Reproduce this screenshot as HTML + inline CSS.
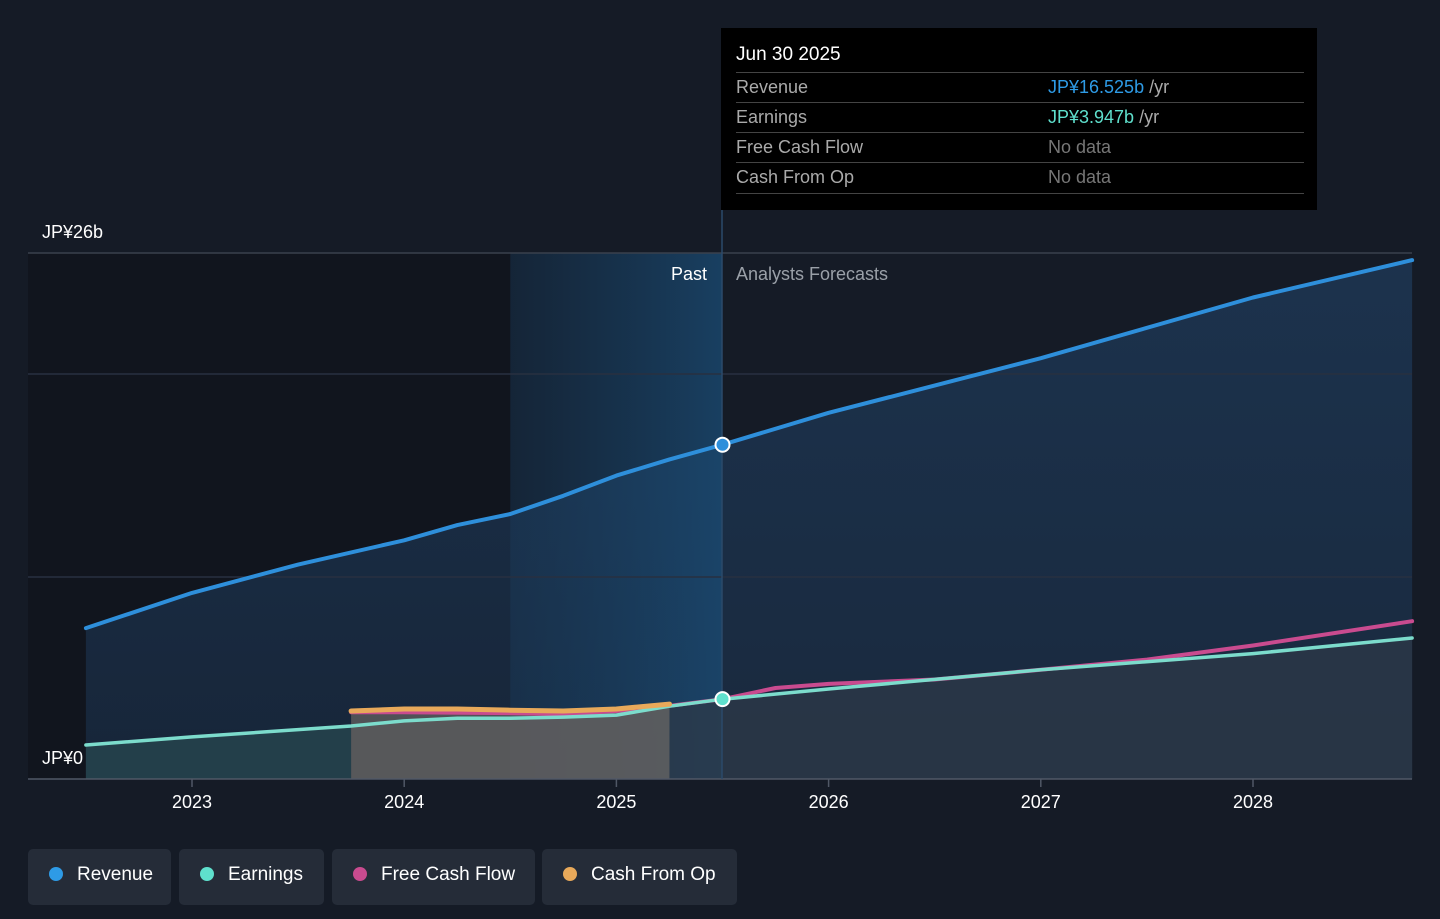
<!DOCTYPE html>
<html><head><meta charset="utf-8"><style>
body{margin:0;background:#151b26;font-family:"Liberation Sans",sans-serif;width:1440px;height:919px;overflow:hidden;position:relative}
.tt{position:absolute;left:721px;top:28px;width:596px;height:182px;background:#000;color:#fff}
.tt .h{position:absolute;left:15px;top:16px;font-size:19px}
.row{position:absolute;left:15px;width:568px;height:30px;border-top:1px solid #444;font-size:18px;color:#aaa}
.row span{position:absolute;top:4px}
.leg{position:absolute;top:849px;height:56px;background:#252c38;border-radius:5px;color:#fff;font-size:19px;line-height:52px}
.leg i{position:absolute;left:21px;top:18px;width:14px;height:14px;border-radius:7px}
.leg b{font-weight:normal;position:absolute;left:49px}
</style></head><body>
<svg id="chart" width="1440" height="919" style="position:absolute;left:0;top:0">
<defs>
<linearGradient id="rg" x1="0" y1="0" x2="0" y2="1"><stop offset="0" stop-color="#1e3a5a" stop-opacity="0.75"/><stop offset="1" stop-color="#1e3a5a" stop-opacity="0.45"/></linearGradient>
<linearGradient id="hg" x1="0" y1="0" x2="1" y2="0"><stop offset="0" stop-color="#1a3d5e" stop-opacity="0.4"/><stop offset="1" stop-color="#1a4a72" stop-opacity="0.8"/></linearGradient>
</defs>
<rect x="28" y="253" width="694" height="526" fill="#11151e"/>
<g id="g"></g>
</svg>
<div class="tt">
<div class="h">Jun 30 2025</div>
<div class="row" style="top:44px"><span>Revenue</span><span style="left:312px;color:#2e9be6">JP¥16.525b <span style="position:static;color:#aaa">/yr</span></span></div>
<div class="row" style="top:74px"><span>Earnings</span><span style="left:312px;color:#5fe0cd">JP¥3.947b <span style="position:static;color:#aaa">/yr</span></span></div>
<div class="row" style="top:104px"><span>Free Cash Flow</span><span style="left:312px;color:#777">No data</span></div>
<div class="row" style="top:134px;border-bottom:1px solid #444"><span>Cash From Op</span><span style="left:312px;color:#777">No data</span></div>
</div>
<div class="leg" style="left:28px;width:143px"><i style="background:#2e9be6"></i><b>Revenue</b></div>
<div class="leg" style="left:179px;width:145px"><i style="background:#5fe0cd"></i><b>Earnings</b></div>
<div class="leg" style="left:332px;width:203px"><i style="background:#c94b8f"></i><b>Free Cash Flow</b></div>
<div class="leg" style="left:542px;width:195px"><i style="background:#e8a95a"></i><b>Cash From Op</b></div>
<script>
const years=[2023,2024,2025,2026,2027,2028];
const revT=[2022.5,2023,2023.5,2024,2024.25,2024.5,2024.75,2025,2025.25,2025.5,2026,2027,2028,2028.75];
const revV=[7.46,9.2,10.6,11.8,12.55,13.1,14.0,15.0,15.8,16.525,18.1,20.8,23.8,25.65];
const earnT=[2022.5,2023,2023.75,2024,2024.25,2024.5,2024.75,2025,2025.25,2025.5,2026,2027,2028,2028.75];
const earnV=[1.68,2.08,2.62,2.87,3.0,3.0,3.06,3.16,3.6,3.947,4.45,5.4,6.2,6.97];
const fcfT=[2023.75,2024,2024.5,2024.75,2025,2025.25,2025.5,2025.75,2026,2026.5,2027,2027.5,2028,2028.75];
const fcfV=[3.3,3.3,3.26,3.2,3.36,3.62,3.947,4.5,4.7,4.92,5.4,5.9,6.6,7.8];
const cfoT=[2023.75,2024,2024.25,2024.5,2024.75,2025,2025.25];
const cfoV=[3.36,3.46,3.46,3.4,3.36,3.46,3.7];
const X=t=>192+(t-2023)*212.2, Y=v=>779-v*20.23;
const ns='http://www.w3.org/2000/svg', g=document.getElementById('g');
function el(tag,a){const e=document.createElementNS(ns,tag);for(const k in a)e.setAttribute(k,a[k]);g.appendChild(e);return e;}
const pts=(T,V)=>T.map((t,i)=>X(t).toFixed(1)+','+Y(V[i]).toFixed(1));
let e;
e=el('polygon',{points:pts(revT,revV).join(' ')+` ${X(2028.75)},779 ${X(2022.5)},779`,fill:'url(#rg)'});

e=el('rect',{x:X(2024.5),y:253,width:X(2025.5)-X(2024.5),height:526,fill:'url(#hg)'});

e=el('polygon',{points:pts(earnT,earnV).join(' ')+` ${X(2028.75)},779 ${X(2022.5)},779`,fill:'#2e3a48',opacity:0.75});

e=el('polygon',{points:pts(earnT.slice(0,3),earnV.slice(0,3)).join(' ')+` ${X(2023.75)},779 ${X(2022.5)},779`,fill:'#1f4a50',opacity:0.5});

e=el('polygon',{points:pts(cfoT,cfoV).join(' ')+` ${X(2025.25)},779 ${X(2023.75)},779`,fill:'#80766e',opacity:0.55});

[[253,'#3a414d'],[374,'#283040'],[577,'#283040'],[779,'#505866']].forEach(([y,c])=>{
 e=el('line',{x1:28,x2:1412,y1:y,y2:y,stroke:c,'stroke-width':1.5});
 });
e=el('line',{x1:722,x2:722,y1:210,y2:779,stroke:'#2b4a6a','stroke-width':1.5});

function line(T,V,c,w,n){const p=el('polyline',{points:pts(T,V).join(' '),fill:'none',stroke:c,'stroke-width':w,'stroke-linejoin':'round','stroke-linecap':'round'});
}
line(revT,revV,'#2e8fdb',4,'revenue-line');
line(fcfT,fcfV,'#c94b8f',4,'free-cash-flow-line');
line(earnT,earnV,'#7cdccc',3.5,'earnings-line');
line(cfoT,cfoV,'#e8a95a',5,'cash-from-op-line');
e=el('circle',{cx:X(2025.5),cy:Y(16.525),r:7,fill:'#2e8fdb',stroke:'#fff','stroke-width':2});

e=el('circle',{cx:X(2025.5),cy:Y(3.947),r:7,fill:'#5fe0cd',stroke:'#fff','stroke-width':2});

years.forEach(y=>{
 e=el('line',{x1:X(y),x2:X(y),y1:779,y2:787,stroke:'#505866','stroke-width':1.5});
 
 e=el('text',{x:X(y),y:808,'text-anchor':'middle',fill:'#fff','font-size':18});e.textContent=y;
 });
function txt(x,y,s,c,a,n){e=el('text',{x:x,y:y,fill:c,'font-size':18,'text-anchor':a});e.textContent=s;
}
txt(42,238,'JP¥26b','#fff','start','y-label-top');
txt(42,764,'JP¥0','#fff','start','y-label-zero');
txt(707,280,'Past','#fff','end','past-label');
txt(736,280,'Analysts Forecasts','#9aa0a8','start','forecast-label');
</script>
</body></html>
